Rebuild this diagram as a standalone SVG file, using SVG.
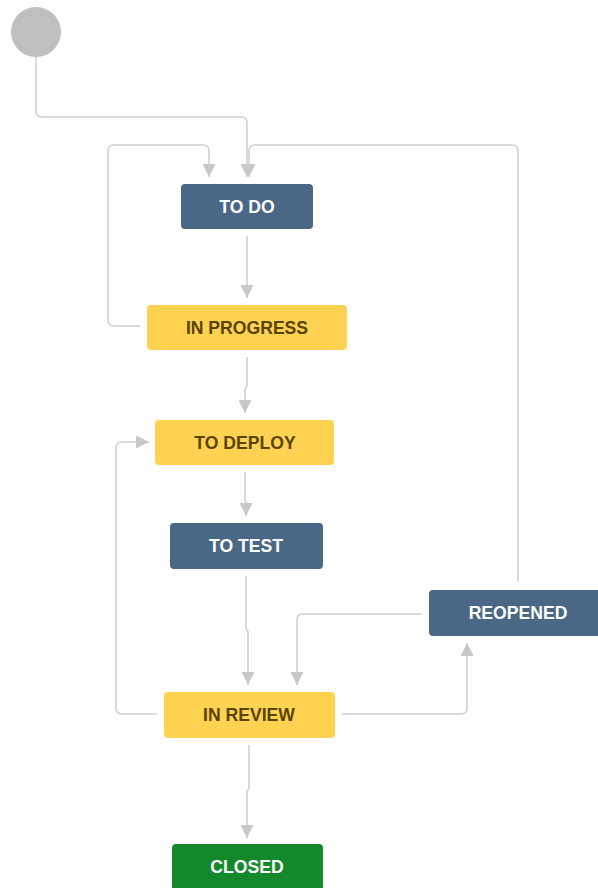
<svg xmlns="http://www.w3.org/2000/svg" width="598" height="888" viewBox="0 0 598 888">
<defs>
<marker id="arr" viewBox="0 0 12 12" refX="12" refY="6" markerWidth="13" markerHeight="13" markerUnits="userSpaceOnUse" orient="auto">
<path d="M0,0 L12,6 L0,12 z" fill="#c8c8c8"/>
</marker>
<style>
.c{fill:none;stroke:#d0d0d0;stroke-width:1.6}
.a{marker-end:url(#arr)}
.blue{fill:#4a6785}
.yel{fill:#ffd351}
.grn{fill:#14892c}
text{font-family:"Liberation Sans",Arial,sans-serif;font-weight:bold;font-size:17.6px;text-anchor:middle;dominant-baseline:central}
.tw{fill:#ffffff}
.ty{fill:#594300}
</style>
</defs>
<rect width="598" height="888" fill="#ffffff"/>
<g id="connectors">
<path class="c a" d="M36,57 V111 Q36,117 42,117 H241 Q247,117 247,123 V177"/>
<path class="c a" d="M518,582 V151 Q518,145 512,145 H255 Q249,145 249,151 V177"/>
<path class="c a" d="M140,326 H114 Q108,326 108,320 V151 Q108,145 114,145 H203 Q209,145 209,151 V177"/>
<path class="c a" d="M247,236 V298"/>
<path class="c a" d="M247,357 V385 L245,390 V413"/>
<path class="c a" d="M157,714 H122 Q116,714 116,708 V448 Q116,442 122,442 H149"/>
<path class="c a" d="M245,472 V500 L246,503 V516"/>
<path class="c a" d="M246,576 V628 L248,632 V685"/>
<path class="c a" d="M422,614 H303 Q297,614 297,620 V685"/>
<path class="c a" d="M342,714 H461 Q467,714 467,708 V643"/>
<path class="c a" d="M249,745 V788 L247,792 V838"/>
</g>
<g id="start"><circle cx="36" cy="32" r="25" fill="#bfbfbf"/></g>
<g id="todo"><rect class="blue" x="181" y="184" width="132" height="45" rx="4"/><text class="tw" x="247" y="207">TO DO</text></g>
<g id="inprogress"><rect class="yel" x="147" y="305" width="200" height="45" rx="4"/><text class="ty" x="247" y="328">IN PROGRESS</text></g>
<g id="todeploy"><rect class="yel" x="155" y="420" width="179" height="45" rx="4"/><text class="ty" x="245" y="443">TO DEPLOY</text></g>
<g id="totest"><rect class="blue" x="170" y="523" width="153" height="46" rx="4"/><text class="tw" x="246" y="546">TO TEST</text></g>
<g id="reopened"><rect class="blue" x="429" y="590" width="175" height="46" rx="4"/><text class="tw" x="518" y="613">REOPENED</text></g>
<g id="inreview"><rect class="yel" x="164" y="692" width="171" height="46" rx="4"/><text class="ty" x="249" y="715">IN REVIEW</text></g>
<g id="closed"><rect class="grn" x="172" y="844" width="151" height="50" rx="4"/><text class="tw" x="247" y="867">CLOSED</text></g>
</svg>
